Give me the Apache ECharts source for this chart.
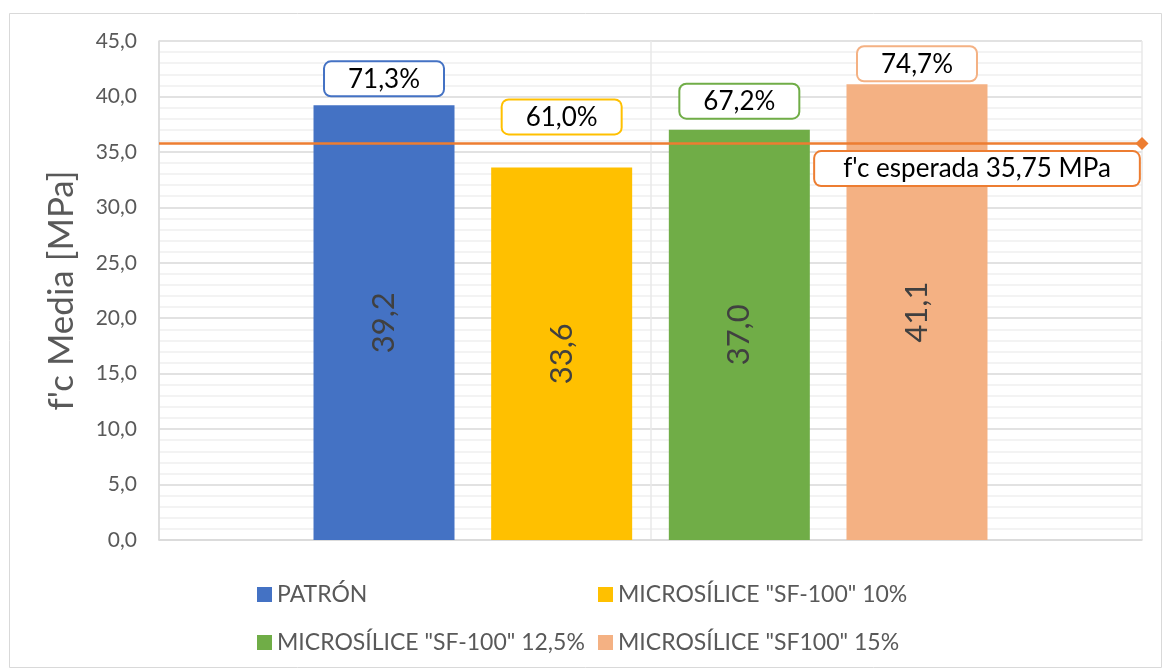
<!DOCTYPE html>
<html>
<head>
<meta charset="utf-8">
<script src="https://cdn.jsdelivr.net/npm/echarts@6/dist/echarts.min.js"></script>
<style>
html,body{margin:0;padding:0;background:#fff;}
#chart{width:1165px;height:671px;}
</style>
</head>
<body>
<div id="chart"></div>
<script>
// ---- data ----
var seriesNames = ['PATRÓN', 'MICROSÍLICE "SF-100" 10%', 'MICROSÍLICE "SF-100" 12,5%', 'MICROSÍLICE "SF100" 15%'];
var strengthValues = [39.2, 33.6, 37.0, 41.1];          // f'c media [MPa]
var percentValues = [71.3, 61.0, 67.2, 74.7];           // % labels
var expectedStrength = 35.75;                            // f'c esperada
var expectedLabel = "f'c esperada 35,75 MPa";
var yTicks = { min: 0, max: 45, interval: 5 };

// ---- styles ----
var barColors = ['#4472C4', '#FFC000', '#70AD47', '#F4B183'];
var pctDistances = [10, 34, 12, 4];
var FONT = 'Lato';
function fmt(v) { return v.toFixed(1).replace('.', ','); }

var series = [];
seriesNames.forEach(function (name, i) {
  series.push({
    name: name,
    type: 'bar',
    stack: 's' + i,
    barWidth: 141,
    barGap: '26%',
    itemStyle: { color: barColors[i] },
    label: {
      show: true, position: 'inside', rotate: 90,
      fontFamily: FONT, fontSize: 31, color: '#404040',
      formatter: function (p) { return fmt(p.value); }
    },
    data: [strengthValues[i]]
  });
  series.push({
    name: name + ' %',
    type: 'bar',
    stack: 's' + i,
    barWidth: 141,
    barGap: '26%',
    itemStyle: { color: barColors[i] },
    label: {
      show: true, position: 'top', distance: pctDistances[i],
      fontFamily: FONT, fontSize: 26, color: '#000',
      backgroundColor: '#fff', borderColor: barColors[i], borderWidth: 2, borderRadius: 6,
      padding: [4, 23, 3, 23],
      formatter: function () { return fmt(percentValues[i]) + '%'; }
    },
    data: [0]
  });
});

series.push({
  name: 'esperada',
  type: 'line',
  xAxisIndex: 1,
  yAxisIndex: 0,
  lineStyle: { color: '#ED7D31', width: 2.5 },
  itemStyle: { color: '#ED7D31' },
  symbol: 'diamond',
  symbolSize: 13,
  z: 5,
  data: [
    { value: [0, expectedStrength], symbol: 'none' },
    { value: [2, expectedStrength],
      label: {
        show: true, position: 'bottom', distance: 2, offset: [-165, 0],
        fontFamily: FONT, fontSize: 26, color: '#000',
        backgroundColor: '#fff', borderColor: '#ED7D31', borderWidth: 2, borderRadius: 6,
        padding: [4, 28, 3, 28],
        formatter: expectedLabel
      } }
  ]
});

var legendText = { fontFamily: FONT, fontSize: 23, color: '#595959' };
var chart = echarts.init(document.getElementById('chart'));
chart.setOption({
  animation: false,
  backgroundColor: '#fff',
  graphic: [{
    type: 'rect', left: 7, top: 11,
    shape: { width: 1152, height: 654 },
    style: { fill: 'none', stroke: '#d9d9d9', lineWidth: 1 },
    silent: true
  }],
  grid: { left: 159, right: 23, top: 41, bottom: 131 },
  legend: [{
    data: [seriesNames[0], seriesNames[2]],
    orient: 'vertical', left: 252, top: 578, itemGap: 25,
    itemWidth: 15, itemHeight: 15, icon: 'rect',
    textStyle: legendText
  }, {
    data: [seriesNames[1], seriesNames[3]],
    orient: 'vertical', left: 593, top: 578, itemGap: 25,
    itemWidth: 15, itemHeight: 15, icon: 'rect',
    textStyle: legendText
  }],
  xAxis: [{
    type: 'category', data: [''],
    axisLine: { show: true, lineStyle: { color: '#d9d9d9', width: 1.5 } },
    axisTick: { show: false }, axisLabel: { show: false },
    splitLine: { show: false }
  }, {
    type: 'value', min: 0, max: 2, interval: 1, position: 'top',
    axisLine: { show: false }, axisTick: { show: false }, axisLabel: { show: false },
    splitLine: { show: true, lineStyle: { color: '#e8e8e8', width: 1.5 } }
  }],
  yAxis: [{
    type: 'value', min: yTicks.min, max: yTicks.max, interval: yTicks.interval,
    name: "f'c Media [MPa]", nameLocation: 'middle', nameGap: 80,
    nameTextStyle: { fontFamily: FONT, fontSize: 35, color: '#595959' },
    axisLine: { show: true, lineStyle: { color: '#d9d9d9', width: 1.5 } },
    axisTick: { show: false },
    axisLabel: { fontFamily: FONT, fontSize: 21, color: '#595959', margin: 22,
      formatter: function (v) { return fmt(v); } },
    splitLine: { show: true, lineStyle: { color: '#d9d9d9', width: 1.5 } },
    minorTick: { show: false, splitNumber: 5 },
    minorSplitLine: { show: true, lineStyle: { color: '#f0f0f0', width: 1.5 } }
  }],
  series: series
});
</script>
</body>
</html>
